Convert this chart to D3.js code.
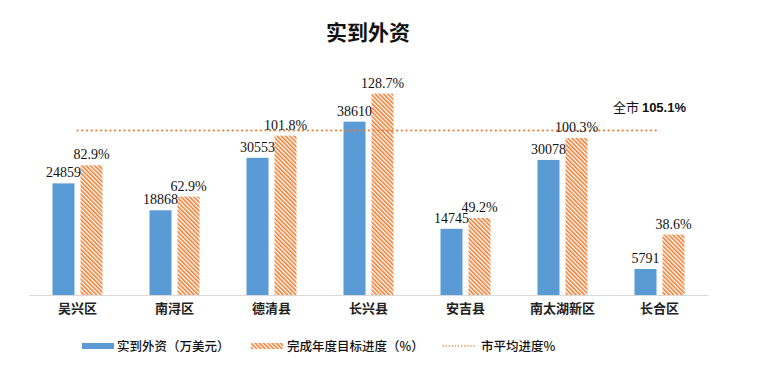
<!DOCTYPE html>
<html>
<head>
<meta charset="utf-8">
<script src="https://cdn.jsdelivr.net/npm/d3@7"></script>
<style>
  body { margin: 0; background: #fff; }
  svg { display: block; }
</style>
</head>
<body>
<div id="chart"></div>
<script>
const categories = ["吴兴区", "南浔区", "德清县", "长兴县", "安吉县", "南太湖新区", "长合区"];
const fdiValues = [24859, 18868, 30553, 38610, 14745, 30078, 5791];
const progressPct = [82.9, 62.9, 101.8, 128.7, 49.2, 100.3, 38.6];
const cityAvg = 105.1;

const width = 768;
const height = 371;
const baseY = 295;

const blue = "#5B9BD5";
const orange = "#ED7D31";

const svg = d3.select("#chart")
  .append("svg")
  .attr("width", width)
  .attr("height", height);

// hatch pattern
const defs = svg.append("defs");
const pat = defs.append("pattern")
  .attr("id", "hatch")
  .attr("patternUnits", "userSpaceOnUse")
  .attr("width", 3)
  .attr("height", 3)
  .attr("patternTransform", "rotate(-45)");
pat.append("rect").attr("width", 3).attr("height", 3).attr("fill", "#fff");
pat.append("line")
  .attr("x1", 0.8).attr("y1", 0).attr("x2", 0.8).attr("y2", 3)
  .attr("stroke", orange).attr("stroke-width", 1.6);

// title
svg.append("text")
  .attr("x", 368)
  .attr("y", 40)
  .attr("text-anchor", "middle")
  .attr("font-family", "'Noto Sans CJK SC', sans-serif")
  .attr("font-weight", "bold")
  .attr("font-size", 21)
  .attr("fill", "#111")
  .text("实到外资");

const x = d3.scaleBand()
  .domain(categories)
  .range([29, 708]);

const yVal = d3.scaleLinear()
  .domain([0, 40000])
  .range([baseY, baseY - 179.6]);

const yPct = d3.scaleLinear()
  .domain([0, 140])
  .range([baseY, baseY - 219.1]);

const cx = d => x(d) + x.bandwidth() / 2;
const barW = 22;

// blue bars
svg.append("g")
  .selectAll("rect")
  .data(categories)
  .enter()
  .append("rect")
  .attr("x", d => cx(d) - 25)
  .attr("y", (d, i) => yVal(fdiValues[i]))
  .attr("width", barW)
  .attr("height", (d, i) => baseY - yVal(fdiValues[i]))
  .attr("fill", blue);

// hatched bars
svg.append("g")
  .selectAll("rect")
  .data(categories)
  .enter()
  .append("rect")
  .attr("x", d => cx(d) + 3)
  .attr("y", (d, i) => yPct(progressPct[i]))
  .attr("width", barW)
  .attr("height", (d, i) => baseY - yPct(progressPct[i]))
  .attr("fill", "url(#hatch)");

// axis
const xAxis = g => g
  .attr("transform", `translate(0,${baseY})`)
  .call(d3.axisBottom(x).tickSize(0).tickPadding(9))
  .call(g => g.select(".domain").attr("stroke", "#D9D9D9").attr("stroke-width", 1))
  .call(g => g.selectAll("text")
    .attr("font-family", "'Noto Sans CJK SC', sans-serif")
    .attr("font-size", 13)
    .attr("font-weight", 600)
    .attr("fill", "#222"));
svg.append("g").call(xAxis);

// dotted average line
const avgLine = d3.line()
  .x(d => cx(d))
  .y(() => yPct(cityAvg));

svg.append("path")
  .datum(categories)
  .attr("d", avgLine)
  .attr("fill", "none")
  .attr("stroke", orange)
  .attr("stroke-width", 2.2)
  .attr("stroke-linecap", "round")
  .attr("stroke-dasharray", "0.1,4.6");

// value labels
svg.append("g")
  .selectAll("text")
  .data(categories)
  .enter()
  .append("text")
  .attr("x", d => cx(d) - 14)
  .attr("y", (d, i) => yVal(fdiValues[i]) - 6)
  .attr("text-anchor", "middle")
  .attr("font-family", "'Liberation Serif', serif")
  .attr("font-size", 14)
  .attr("fill", "#111")
  .text((d, i) => fdiValues[i]);

svg.append("g")
  .selectAll("text")
  .data(categories)
  .enter()
  .append("text")
  .attr("x", d => cx(d) + 14)
  .attr("y", (d, i) => yPct(progressPct[i]) - 6)
  .attr("text-anchor", "middle")
  .attr("font-family", "'Liberation Serif', serif")
  .attr("font-size", 14)
  .attr("fill", "#111")
  .text((d, i) => progressPct[i].toFixed(1) + "%");

// city average label
const avgLabel = svg.append("text")
  .attr("x", 686)
  .attr("y", 112)
  .attr("text-anchor", "end")
  .attr("fill", "#111");
avgLabel.append("tspan")
  .attr("font-family", "'Noto Sans CJK SC', sans-serif")
  .attr("font-size", 13)
  .text("全市 ");
avgLabel.append("tspan")
  .attr("font-family", "'Liberation Sans', sans-serif")
  .attr("font-weight", "bold")
  .attr("font-size", 13)
  .text(cityAvg + "%");

// legend
const legendY = 346;
const legendFont = "'Noto Sans CJK SC', sans-serif";
const legendSize = 12.5;
const legend = svg.append("g");

legend.append("rect")
  .attr("x", 82).attr("y", legendY - 3)
  .attr("width", 32).attr("height", 6)
  .attr("fill", blue);
legend.append("text")
  .attr("x", 117).attr("y", legendY + 5)
  .attr("font-family", legendFont).attr("font-size", legendSize)
  .attr("font-weight", 500).attr("fill", "#111")
  .text("实到外资（万美元）");

legend.append("rect")
  .attr("x", 251).attr("y", legendY - 3)
  .attr("width", 32).attr("height", 6)
  .attr("fill", "url(#hatch)");
legend.append("text")
  .attr("x", 287).attr("y", legendY + 5)
  .attr("font-family", legendFont).attr("font-size", legendSize)
  .attr("font-weight", 500).attr("fill", "#111")
  .text("完成年度目标进度（%）");

legend.append("line")
  .attr("x1", 443).attr("x2", 477)
  .attr("y1", legendY).attr("y2", legendY)
  .attr("stroke", orange)
  .attr("stroke-width", 1.5)
  .attr("stroke-linecap", "round")
  .attr("stroke-dasharray", "0.1,3");
legend.append("text")
  .attr("x", 481).attr("y", legendY + 5)
  .attr("font-family", legendFont).attr("font-size", legendSize)
  .attr("font-weight", 500).attr("fill", "#111")
  .text("市平均进度%");
</script>
</body>
</html>
